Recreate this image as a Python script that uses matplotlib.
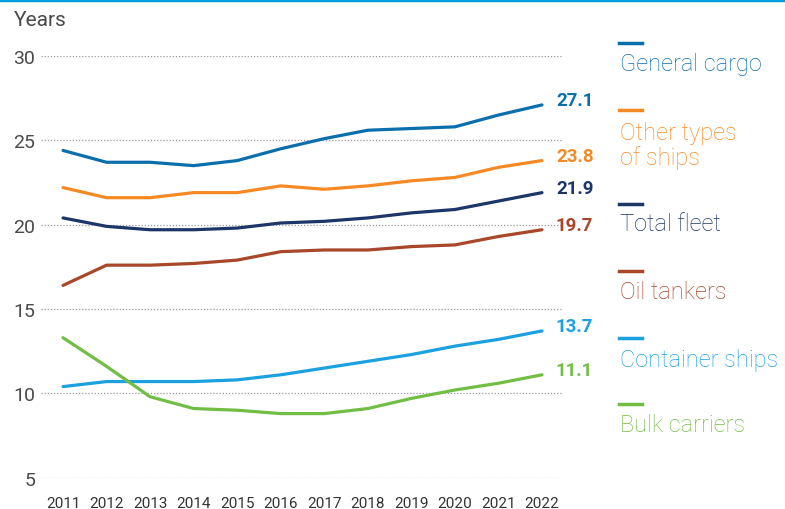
import numpy as np
import matplotlib
matplotlib.use("Agg")
import matplotlib.pyplot as plt
from matplotlib.lines import Line2D

# ──────────────────────────────────────────────
# Data (average vessel age, years)
# ──────────────────────────────────────────────
years = list(range(2011, 2023))

general_cargo = [24.4, 23.7, 23.7, 23.5, 23.8, 24.5, 25.1, 25.6, 25.7, 25.8, 26.5, 27.1]
other_types = [22.2, 21.6, 21.6, 21.9, 21.9, 22.3, 22.1, 22.3, 22.6, 22.8, 23.4, 23.8]
total_fleet = [20.4, 19.9, 19.7, 19.7, 19.8, 20.1, 20.2, 20.4, 20.7, 20.9, 21.4, 21.9]
oil_tankers = [16.4, 17.6, 17.6, 17.7, 17.9, 18.4, 18.5, 18.5, 18.7, 18.8, 19.3, 19.7]
container_ships = [10.4, 10.7, 10.7, 10.7, 10.8, 11.1, 11.5, 11.9, 12.3, 12.8, 13.2, 13.7]
bulk_carriers = [13.3, 11.6, 9.8, 9.1, 9.0, 8.8, 8.8, 9.1, 9.7, 10.2, 10.6, 11.1]

series_names = ["General cargo", "Other types\nof ships", "Total fleet",
                "Oil tankers", "Container ships", "Bulk carriers"]
series_values = [general_cargo, other_types, total_fleet,
                 oil_tankers, container_ships, bulk_carriers]
series_colors = ["#0B6FAE", "#F58A24", "#1C3767", "#A9472A", "#1BA1E0", "#72BE45"]

y_ticks = [5, 10, 15, 20, 25, 30]
x_tick_labels = [str(y) for y in years]

# legend block positions (figure pixels from top) – layout only
legend_dash_y = [44, 111, 205, 272, 339, 405]
legend_text_y = [65, 146, 225, 293, 360, 425]

plt.rcParams["font.family"] = ["Roboto", "DejaVu Sans"]

W, H = 785, 510
fig = plt.figure(figsize=(W / 100, H / 100), dpi=100)
fig.patch.set_facecolor("white")

ax = fig.add_axes([41 / W, 1 - 478.7 / H, (563 - 41) / W, (478.7 - 57) / H])
ax.set_xlim(2011 - 22 / 43.5, 2022 + 21 / 43.5)
ax.set_ylim(5, 30)

for vals, color in zip(series_values, series_colors):
    ax.plot(years, vals, color=color, linewidth=2.3, solid_capstyle="round",
            solid_joinstyle="round", zorder=3, clip_on=False)
    ax.annotate(f"{vals[-1]:.1f}", xy=(years[-1], vals[-1]),
                xytext=(14, 5), textcoords="offset pixels",
                ha="left", va="center", color=color, fontsize=13.5,
                fontweight="bold", annotation_clip=False)

# dotted gridlines
for yv in y_ticks:
    ax.axhline(yv, color="#9a9a9a", linestyle=(0, (1, 1.5)), linewidth=0.9, zorder=1)

ax.set_yticks(y_ticks)
ax.set_yticklabels([str(v) for v in y_ticks], color="#4a4a4a", fontsize=14)
ax.set_xticks(years)
ax.set_xticklabels(x_tick_labels, color="#333333", fontsize=11)
ax.tick_params(axis="y", length=0, pad=4)
ax.tick_params(axis="x", length=0, pad=13)
for sp in ax.spines.values():
    sp.set_visible(False)

fig.text(14 / W, 1 - 21 / H, "Years", ha="left", va="center",
         fontsize=15, color="#4a4a4a")

# top rule
fig.add_artist(Line2D([0, 1], [1 - 1 / H, 1 - 1 / H], transform=fig.transFigure,
                      color="#009EDB", linewidth=2.5))

# custom legend on the right
for name, color, dy, ty in zip(series_names, series_colors, legend_dash_y, legend_text_y):
    fig.add_artist(Line2D([619 / W, 642 / W], [1 - dy / H, 1 - dy / H],
                          transform=fig.transFigure, color=color, linewidth=2.5))
    fig.text(620 / W, 1 - ty / H, name, ha="left", va="center",
             fontsize=17, color=color, linespacing=1.1, fontweight="light")

fig.savefig("out.png", dpi=100, facecolor="white")
